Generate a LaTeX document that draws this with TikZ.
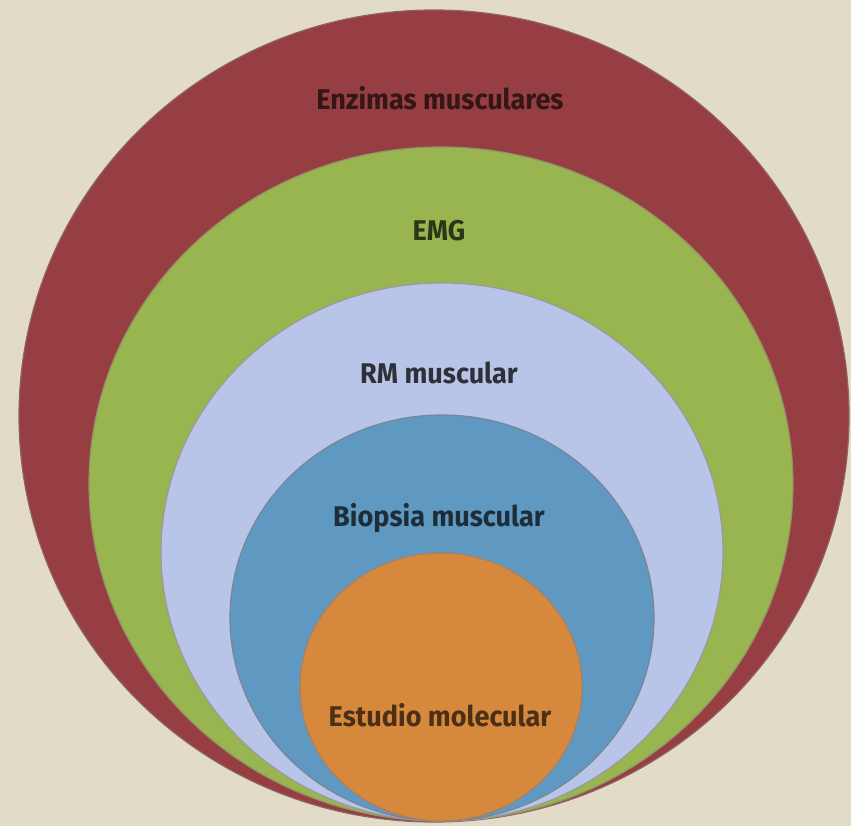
\documentclass[tikz,border=0pt]{standalone}
\usepackage{fontspec}
\setmainfont{Fira Sans}[FakeStretch=0.95]
\definecolor{bgc}{HTML}{E1DBC8}
\definecolor{redc}{HTML}{963E42}
\definecolor{greenc}{HTML}{98B54F}
\definecolor{lbluec}{HTML}{B8C5E8}
\definecolor{bluec}{HTML}{5F98C0}
\definecolor{orangec}{HTML}{D6893D}
\definecolor{edgec}{HTML}{8C7A78}
\tikzset{
  ring/.style={draw=edgec!60!#1, line width=1.2pt, fill=#1},
  lbl/.style={font=\fontsize{28.5}{32}\selectfont\bfseries, inner sep=0pt, anchor=center}
}
\begin{document}
\begin{tikzpicture}[x=1pt,y=-1pt]
\fill[bgc] (0,0) rectangle (851,826);
\useasboundingbox (0,0) rectangle (851,826);
\path[ring=redc] (434,416) ellipse [x radius=415, y radius=406];
\path[ring=greenc] (441,484) ellipse [x radius=352, y radius=337];
\path[ring=lbluec] (442,552) ellipse [x radius=281, y radius=269];
\path[ring=bluec] (442,618) ellipse [x radius=212, y radius=203];
\path[ring=orangec] (441,687) ellipse [x radius=141, y radius=134];
\node[lbl, text=redc!35!black] (t1) at (440,98) {Enzimas musculares};
\node[lbl, text=greenc!30!black] (t2) at (439,231) {EMG};
\node[lbl, text=lbluec!25!black] (t3) at (439,373) {RM muscular};
\node[lbl, text=bluec!30!black] (t4) at (439,518) {Biopsia muscular};
\node[lbl, text=orangec!35!black] (t5) at (440,715) {Estudio molecular};
\end{tikzpicture}
\end{document}
